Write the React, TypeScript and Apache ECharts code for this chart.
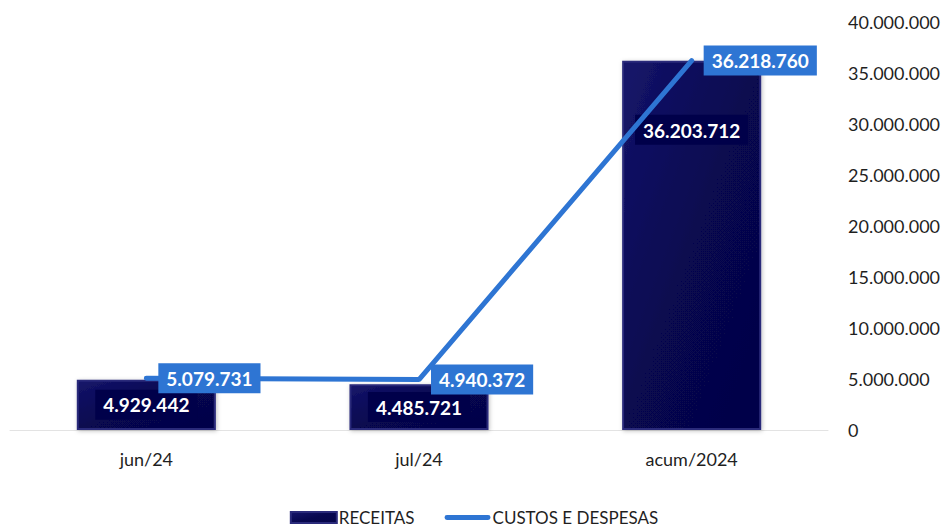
import React, { useEffect, useRef } from "react";
import * as echarts from "echarts";

const categories = ["jun/24", "jul/24", "acum/2024"];
const receitas = [4929442, 4485721, 36203712];
const custos = [5079731, 4940372, 36218760];
const yMin = 0;
const yMax = 40000000;
const yInterval = 5000000;

const fmt = (v: number) =>
  String(Math.round(v)).replace(/\B(?=(\d{3})+(?!\d))/g, ".");

const FONT = "Lato";
const BLUE = "#2E75D3";

export default function App() {
  const ref = useRef<HTMLDivElement>(null);
  useEffect(() => {
    if (!ref.current) return;
    const chart = echarts.init(ref.current, undefined, { renderer: "svg" });
    chart.setOption({
      animation: false,
      backgroundColor: "#ffffff",
      textStyle: { fontFamily: FONT },
      grid: { left: 10, right: 120, top: 22, bottom: 101, containLabel: false },
      legend: {
        bottom: 0,
        left: "center",
        itemGap: 30,
        itemWidth: 46,
        itemHeight: 11,
        textStyle: { fontFamily: FONT, fontSize: 17, color: "#1f1f1f", padding: [0, 0, 0, -3] },
        data: [
          { name: "RECEITAS", icon: "rect" },
          {
            name: "CUSTOS E DESPESAS",
            icon: "path://M0,0 L0.01,0 L0.01,0.01 Z M2,3 H44 A2.5,2.5 0 0 1 44,8 H2 A2.5,2.5 0 0 1 2,3 Z M0,11 L0.01,11 L0.01,10.99 Z",
            itemStyle: { color: BLUE },
          },
        ],
      },
      xAxis: {
        type: "category",
        data: categories,
        axisLine: { show: true, lineStyle: { color: "#e3e3e3", width: 1 } },
        axisTick: { show: false },
        axisLabel: { color: "#1f1f1f", fontSize: 18, fontFamily: FONT, margin: 20 },
      },
      yAxis: {
        type: "value",
        position: "right",
        min: yMin,
        max: yMax,
        interval: yInterval,
        splitLine: { show: false },
        axisLine: { show: false },
        axisTick: { show: false },
        axisLabel: {
          color: "#1f1f1f",
          fontSize: 18,
          fontFamily: FONT,
          margin: 20,
          formatter: (v: number) => fmt(v),
        },
      },
      series: [
        {
          name: "RECEITAS",
          type: "bar",
          barWidth: "51%",
          data: receitas.map((v, i) =>
            i === 2
              ? { value: v, label: { position: "insideTop", distance: 54 } }
              : { value: v }
          ),
          itemStyle: {
            color: {
              type: "linear",
              x: 0,
              y: 0,
              x2: 1,
              y2: 1,
              colorStops: [
                { offset: 0, color: "#15156a" },
                { offset: 0.5, color: "#07074f" },
                { offset: 1, color: "#050548" },
              ],
            },
            borderColor: "#2a2a7a",
            borderWidth: 2,
            shadowColor: "rgba(0,0,0,0.25)",
            shadowBlur: 4,
            shadowOffsetX: 1,
            shadowOffsetY: 1,
          },
          label: {
            show: true,
            position: "inside",
            formatter: (p: any) => fmt(p.value),
            color: "#ffffff",
            fontWeight: "bold",
            fontSize: 19,
            fontFamily: FONT,
            backgroundColor: "#00004a",
            padding: [6, 8, 5, 8],
          },
          z: 2,
        },
        {
          name: "CUSTOS E DESPESAS",
          type: "line",
          data: custos,
          symbol: "circle",
          symbolSize: 0,
          showSymbol: true,
          lineStyle: { color: BLUE, width: 5, cap: "round" },
          itemStyle: { color: BLUE },
          label: {
            show: true,
            position: "right",
            distance: 12,
            formatter: (p: any) => fmt(p.value),
            color: "#ffffff",
            fontWeight: "bold",
            fontSize: 19,
            fontFamily: FONT,
            backgroundColor: BLUE,
            padding: [6, 8, 5, 8],
          },
          z: 3,
        },
      ],
    });
    return () => chart.dispose();
  }, []);
  return (
    <div
      ref={ref}
      style={{ position: "fixed", left: 0, top: 0, width: 948, height: 531 }}
    />
  );
}
